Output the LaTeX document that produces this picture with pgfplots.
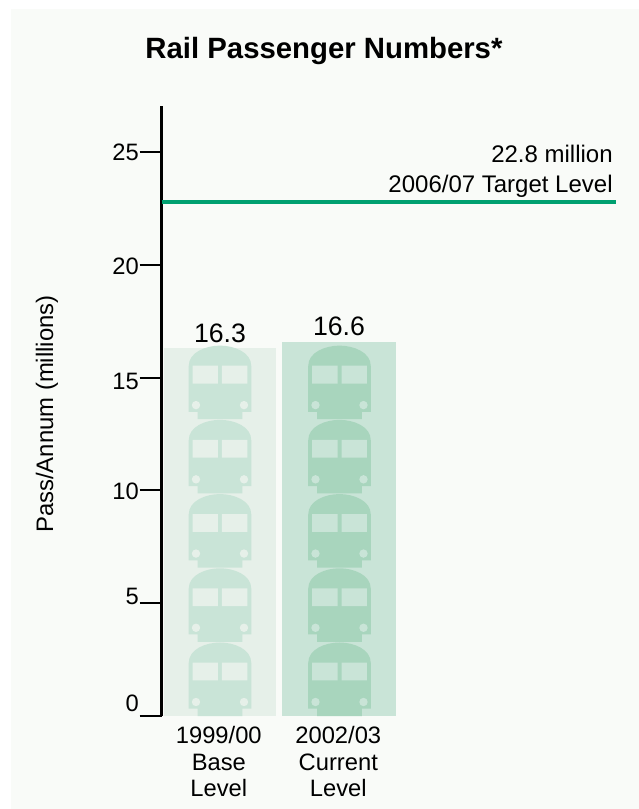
\documentclass[border=0pt]{standalone}
\usepackage{pgfplots}
\pgfplotsset{compat=1.18}
\usepackage{fontspec}
\setmainfont{Liberation Sans}
\definecolor{panelbg}{HTML}{F9FBF8}
\definecolor{barlight}{HTML}{E6F0E9}
\definecolor{barmid}{HTML}{C9E4D7}
\definecolor{busdark}{HTML}{A8D5BD}
\definecolor{targetgreen}{HTML}{00A070}

% Front view of a rail car; origin at the bottom centre, units of 0.75bp
\newcommand{\declarecarmark}[3]{%
  \pgfdeclareplotmark{#1}{%
    \pgfsetfillcolor{#2}%
    \pgfpathmoveto{\pgfpoint{-22.3*0.75bp}{0bp}}%
    \pgflineto{\pgfpoint{22.3*0.75bp}{0bp}}%
    \pgflineto{\pgfpoint{22.3*0.75bp}{7.3*0.75bp}}%
    \pgflineto{\pgfpoint{31.3*0.75bp}{7.3*0.75bp}}%
    \pgflineto{\pgfpoint{31.3*0.75bp}{53*0.75bp}}%
    \pgfcurveto{\pgfpoint{31.3*0.75bp}{67*0.75bp}}{\pgfpoint{14*0.75bp}{73.5*0.75bp}}{\pgfpoint{0bp}{73.5*0.75bp}}%
    \pgfcurveto{\pgfpoint{-14*0.75bp}{73.5*0.75bp}}{\pgfpoint{-31.3*0.75bp}{67*0.75bp}}{\pgfpoint{-31.3*0.75bp}{53*0.75bp}}%
    \pgflineto{\pgfpoint{-31.3*0.75bp}{7.3*0.75bp}}%
    \pgflineto{\pgfpoint{-22.3*0.75bp}{7.3*0.75bp}}%
    \pgfpathclose
    \pgfusepath{fill}%
    \pgfsetfillcolor{#3}%
    \pgfpathrectangle{\pgfpoint{-27.3*0.75bp}{35.6*0.75bp}}{\pgfpoint{25.3*0.75bp}{17.8*0.75bp}}%
    \pgfpathrectangle{\pgfpoint{2*0.75bp}{35.6*0.75bp}}{\pgfpoint{25.3*0.75bp}{17.8*0.75bp}}%
    \pgfpathcircle{\pgfpoint{-24*0.75bp}{14*0.75bp}}{4.2*0.75bp}%
    \pgfpathcircle{\pgfpoint{24*0.75bp}{14*0.75bp}}{4.2*0.75bp}%
    \pgfusepath{fill}%
  }%
}
\declarecarmark{carlight}{barmid}{barlight}
\declarecarmark{cardark}{busdark}{barmid}

\begin{document}
\begin{tikzpicture}[x=0.75bp,y=0.75bp]
  % Page and panel
  \path[fill=white] (0,0) rectangle (639,809);
  \path[fill=panelbg] (11,0) rectangle (639,800);
  \useasboundingbox (0,0) rectangle (639,809);

  \begin{axis}[
    at={(121.125bp,69.75bp)}, anchor=south west,
    scale only axis,
    width=340.875bp, height=457.5bp,
    xmin=-0.4895, xmax=3.3138,
    ymin=0, ymax=27.04,
    clip=false,
    axis y line*=left, axis x line*=bottom,
    x axis line style={draw=none},
    y axis line style={-, line width=1.6bp},
    xtick={-0.01,0.99},
    xticklabels={{1999/00\\Base\\Level},{2002/03\\Current\\Level}},
    x tick label style={align=center, font=\fontsize{17.8bp}{19.6bp}\selectfont, yshift=12bp},
    x tick style={draw=none},
    tick align=outside,
    major tick length=16.5bp,
    ytick={0,5,10,15,20,25},
    yticklabels={\raisebox{3.45bp}{0},\raisebox{-1.3bp}{5},\raisebox{-6.5bp}{10},
                 \raisebox{-8.55bp}{15},\raisebox{-7.35bp}{20},\raisebox{-6.1bp}{25}},
    y tick style={black, line width=1.5bp},
    y tick label style={anchor=base east, font=\fontsize{17.8bp}{20bp}\selectfont, xshift=3bp},
    ylabel={Pass/Annum (millions)},
    ylabel style={font=\fontsize{17.9bp}{20bp}\selectfont, at={(axis description cs:0,0.495)}, anchor=south, yshift=74bp},
  ]
    % Bars
    \addplot[ybar, bar width=84bp, bar shift=0pt, fill=barlight, draw=none,
      nodes near coords, point meta=explicit symbolic,
      every node near coord/.style={font=\fontsize{20bp}{22bp}\selectfont, black, inner sep=0pt, anchor=south, yshift=3.6bp}]
      coordinates {(0,16.3) [16.3]};
    \addplot[ybar, bar width=85.5bp, bar shift=0pt, fill=barmid, draw=none,
      nodes near coords, point meta=explicit symbolic,
      every node near coord/.style={font=\fontsize{20bp}{22bp}\selectfont, black, inner sep=0pt, anchor=south, yshift=3.9bp}]
      coordinates {(0.996,16.6) [16.6]};

    % Rail cars stacked inside each bar
    \addplot[only marks, mark=carlight, mark options={solid}]
      coordinates {(0,0) (0,3.29) (0,6.58) (0,9.87) (0,13.16)};
    \addplot[only marks, mark=cardark, mark options={solid}]
      coordinates {(1,0) (1,3.29) (1,6.58) (1,9.87) (1,13.16)};

    % Target level
    \addplot[targetgreen, line width=3bp] coordinates {(-0.4895,22.8) (3.3138,22.8)};
    \node[anchor=south east, align=right, inner sep=0pt,
          font=\fontsize{18bp}{22.5bp}\selectfont]
      at (axis cs:3.288,22.97) {22.8 million\\2006/07 Target Level};
  \end{axis}

  % Title
  \node[font=\bfseries\fontsize{22bp}{24bp}\selectfont, anchor=center] at (324,758) {Rail Passenger Numbers*};
\end{tikzpicture}
\end{document}
